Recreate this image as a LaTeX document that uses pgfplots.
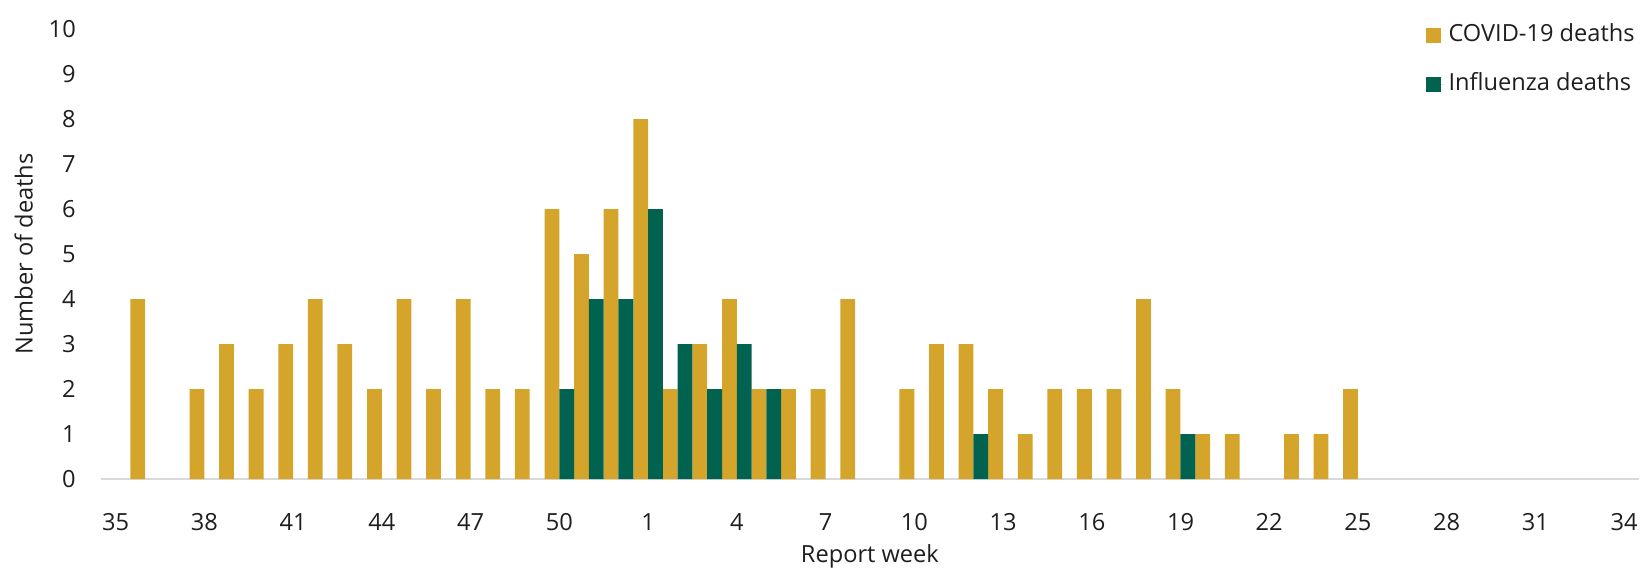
\documentclass[border=0pt]{standalone}
\usepackage{fontspec}
\setmainfont{Open Sans}
\usepackage{pgfplots}
\pgfplotsset{compat=1.18}
\usepackage{pgfplotstable}

\definecolor{covid}{HTML}{D5A42A}
\definecolor{flu}{HTML}{01634F}
\definecolor{basegray}{HTML}{D9D9D9}
\definecolor{txt}{HTML}{1E1E1E}

%% idx = position on the axis, week = report week
\pgfplotstableread{
idx week covid flu
0 35 0 0
1 36 4 0
2 37 0 0
3 38 2 0
4 39 3 0
5 40 2 0
6 41 3 0
7 42 4 0
8 43 3 0
9 44 2 0
10 45 4 0
11 46 2 0
12 47 4 0
13 48 2 0
14 49 2 0
15 50 6 2
16 51 5 4
17 52 6 4
18 1 8 6
19 2 2 3
20 3 3 2
21 4 4 3
22 5 2 2
23 6 2 0
24 7 2 0
25 8 4 0
26 9 0 0
27 10 2 0
28 11 3 0
29 12 3 1
30 13 2 0
31 14 1 0
32 15 2 0
33 16 2 0
34 17 2 0
35 18 4 0
36 19 2 1
37 20 1 0
38 21 1 0
39 22 0 0
40 23 1 0
41 24 1 0
42 25 2 0
43 26 0 0
44 27 0 0
45 28 0 0
46 29 0 0
47 30 0 0
48 31 0 0
49 32 0 0
50 33 0 0
51 34 0 0
}\deaths

\begin{document}
\begin{tikzpicture}[font=\fontsize{11.8}{14}\selectfont, text=txt]
\useasboundingbox (-50.4pt,-45pt) rectangle (772.5pt,239.5pt);
\begin{axis}[
    scale only axis,
    width=769pt, height=225pt,
    ybar=0pt, bar width=7.394pt,
    xmin=-0.5, xmax=51.5,
    ymin=0, ymax=10,
    xtick={0,3,...,51},
    xticklabels={35,38,41,44,47,50,1,4,7,10,13,16,19,22,25,28,31,34},
    ytick={0,1,...,10},
    /pgf/number format/assume math mode=true,
    axis x line*=bottom, axis y line*=left,
    x axis line style={basegray, line width=1pt},
    y axis line style={draw=none},
    major tick style={draw=none},
    xticklabel style={yshift=-9.4pt, text=txt},
    yticklabel style={xshift=-9pt, text=txt},
    xlabel={Report week},
    ylabel={Number of deaths},
    xlabel style={at={(axis description cs:0.5,0)}, anchor=center, yshift=-38.5pt, text=txt},
    ylabel style={at={(axis description cs:-0.0502,0.5)}, anchor=center, rotate=0, text=txt},
    legend style={at={(axis description cs:1,1)}, anchor=north east, yshift=4.75pt,
        draw=none, fill=none, inner sep=0pt, row sep=9pt, legend cell align=left,
        nodes={inner sep=2pt, text height=9pt, text depth=2.5pt, text=txt}},
]
%% COVID-19 (zero weeks left out of the drawing)
\addplot[fill=covid, draw=none, restrict y to domain=0.5:20,
    legend image code/.code={\fill[covid] (0pt,-3.75pt) rectangle (7.5pt,3.75pt);
        \path (0pt,0pt) -- (9.5pt,0pt);}]
    table[x=idx, y=covid] {\deaths};
%% influenza
\addplot[fill=flu, draw=none, restrict y to domain=0.5:20,
    legend image code/.code={\fill[flu] (0pt,-3.75pt) rectangle (7.5pt,3.75pt);
        \path (0pt,0pt) -- (9.5pt,0pt);}]
    table[x=idx, y=flu] {\deaths};
\legend{COVID-19 deaths, Influenza deaths}
\end{axis}
\end{tikzpicture}
\end{document}
